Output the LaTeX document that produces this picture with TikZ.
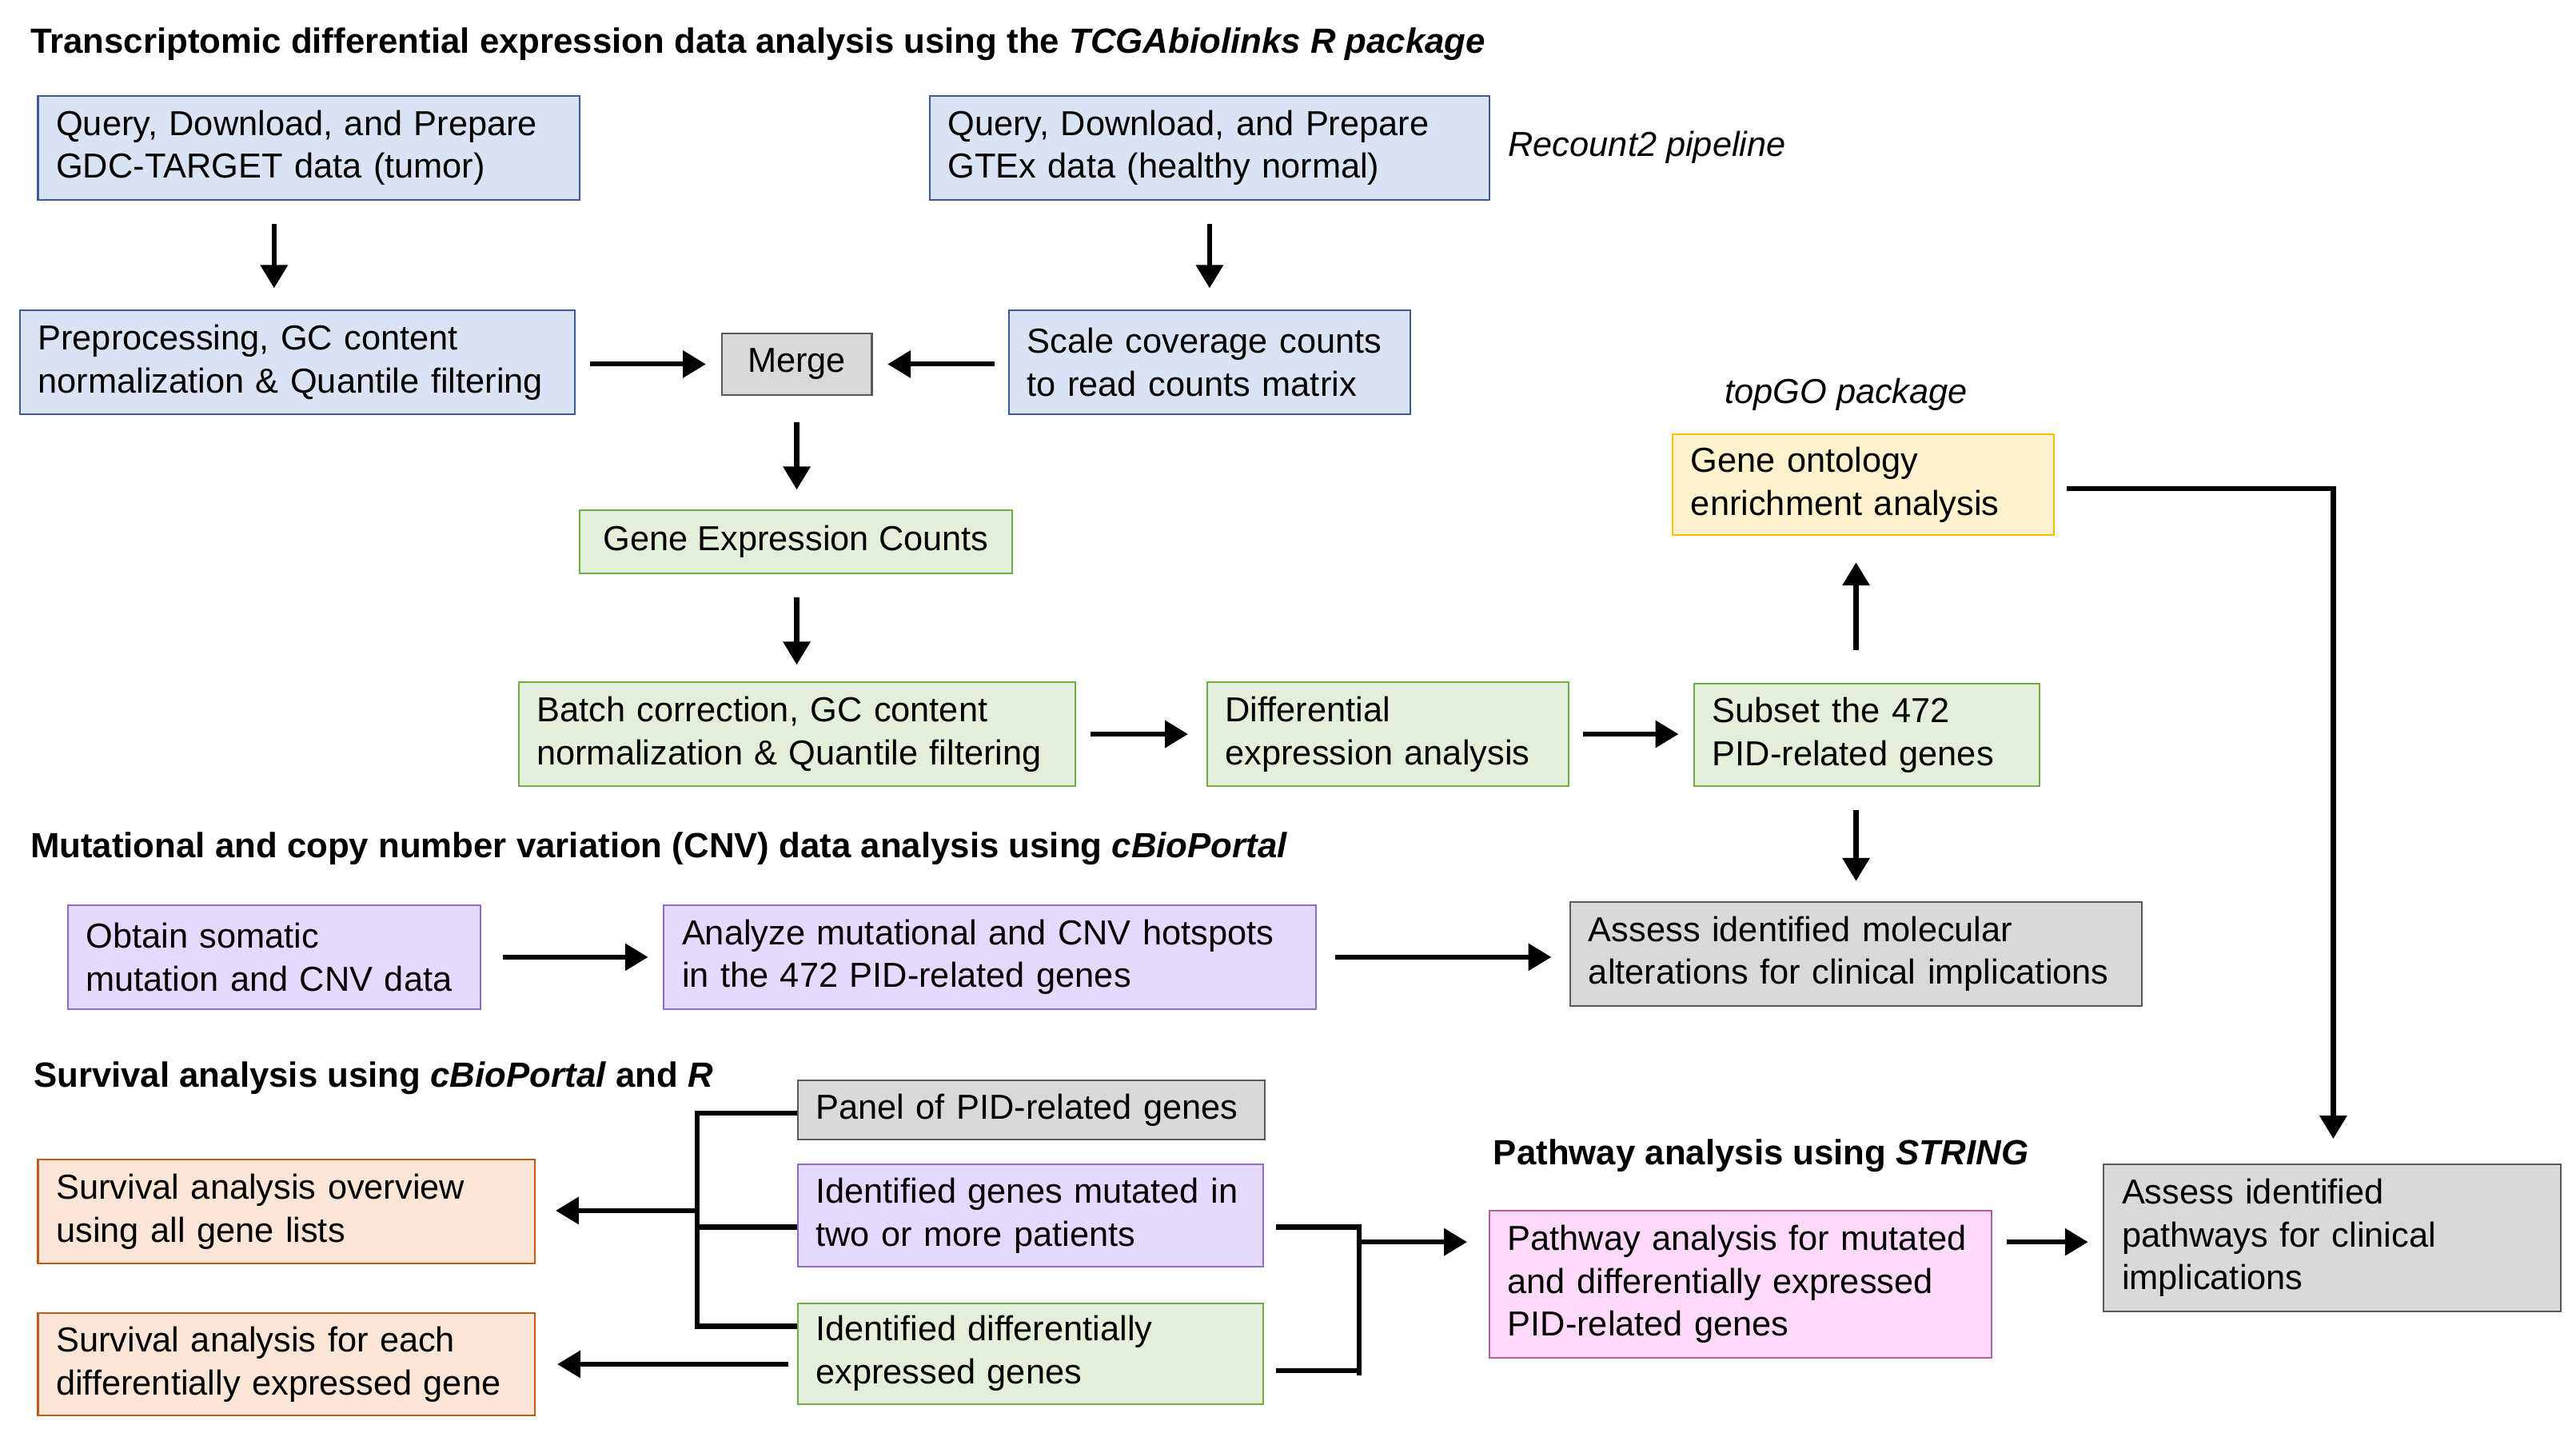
\documentclass[tikz,border=0pt]{standalone}
\usepackage{fontspec}
\setmainfont{Liberation Sans}
\usetikzlibrary{arrows.meta}
\begin{document}
\begin{tikzpicture}[x=0.5pt,y=-0.5pt,
  font=\fontsize{10.5}{13}\selectfont,
  bx/.style 2 args={draw, line width=0.5pt, minimum width=#1*0.5pt, minimum height=#2*0.5pt,
    text width=(#1-22)*0.5pt, align=left, inner sep=0pt},
  cbx/.style 2 args={draw, line width=0.5pt, minimum width=#1*0.5pt, minimum height=#2*0.5pt,
    align=center, inner sep=0pt},
  blu/.style={fill=cBlue, draw=bluD},
  grn/.style={fill=cGreen, draw=cGreenD},
  pur/.style={fill=cPur, draw=cPurD},
  gry/.style={fill=cGray, draw=cGrayD},
  org/.style={fill=cOrg, draw=cOrgD},
  yel/.style={fill=cYel, draw=cYelD},
  pnk/.style={fill=cPnk, draw=cPnkD},
  hd/.style={font=\fontsize{10.6}{13}\selectfont\bfseries, anchor=west, inner sep=0pt},
  ar/.style={line width=1.5pt, -{Triangle[length=7pt,width=8pt]}},
  ln/.style={line width=1.5pt}]
\definecolor{cBlue}{HTML}{DAE3F3}
\definecolor{bluD}{HTML}{3A5A99}
\definecolor{cGreen}{HTML}{E2F0D9}
\definecolor{cGreenD}{HTML}{70AD47}
\definecolor{cPur}{HTML}{E6D9FF}
\definecolor{cPurD}{HTML}{8E6CC8}
\definecolor{cGray}{HTML}{D9D9D9}
\definecolor{cGrayD}{HTML}{595959}
\definecolor{cOrg}{HTML}{FBE5D6}
\definecolor{cOrgD}{HTML}{C55A11}
\definecolor{cYel}{HTML}{FFF2CC}
\definecolor{cYelD}{HTML}{FFC000}
\definecolor{cPnk}{HTML}{FFD9FA}
\definecolor{cPnkD}{HTML}{B060A0}
\useasboundingbox (0,0) rectangle (1560,870);

\node[hd] (h1) at (18,27) {Transcriptomic differential expression data analysis using the \textit{TCGAbiolinks R package}};
\node[bx={328}{63}, blu] (b1) at (187,89.5) {Query, Download, and Prepare\\GDC-TARGET data (tumor)};
\node[bx={339}{63}, blu] (b2) at (732.5,89.5) {Query, Download, and Prepare\\GTEx data (healthy normal)};
\node[anchor=west, inner sep=0pt, font=\fontsize{10.5}{13}\selectfont\itshape] (rc) at (913,89) {Recount2 pipeline};
\node[bx={336}{63}, blu] (b3) at (180,219.5) {Preprocessing, GC content\\normalization \& Quantile filtering};
\node[cbx={91}{37}, gry] (b4) at (482.5,220.5) {Merge};
\node[bx={243}{63}, blu] (b5) at (732.5,219.5) {Scale coverage counts\\to read counts matrix};
\node[cbx={262}{38}, grn] (b6) at (482,328) {Gene Expression Counts};
\node[bx={337}{63}, grn] (b7) at (482.5,444.5) {Batch correction, GC content\\normalization \& Quantile filtering};
\node[bx={219}{63}, grn] (b8) at (840.5,444.5) {Differential\\expression analysis};
\node[bx={209}{62}, grn] (b9) at (1130.5,445) {Subset the 472\\PID-related genes};
\node[anchor=center, inner sep=0pt, font=\fontsize{10.5}{13}\selectfont\itshape] (tg) at (1118,239) {topGO package};
\node[bx={231}{61}, yel] (b10) at (1128.5,293.5) {Gene ontology\\enrichment analysis};

\node[hd] (h2) at (18,514) {Mutational and copy number variation (CNV) data analysis using \textit{cBioPortal}};
\node[bx={250}{63}, pur] (b11) at (166,579.5) {Obtain somatic\\mutation and CNV data};
\node[bx={395}{63}, pur] (b12) at (599.5,579.5) {Analyze mutational and CNV hotspots\\in the 472 PID-related genes};
\node[bx={346}{63}, gry] (b13) at (1124,577.5) {Assess identified molecular\\alterations for clinical implications};

\node[hd] (h3) at (20,653) {Survival analysis using \textit{cBioPortal} and \textit{R}};
\node[bx={283}{36}, gry] (b14) at (624.5,672) {Panel of PID-related genes};
\node[bx={282}{62}, pur] (b15) at (624,736) {Identified genes mutated in\\two or more patients};
\node[bx={282}{61}, grn] (b16) at (624,819.5) {Identified differentially\\expressed genes};
\node[bx={301}{63}, org] (b17) at (173.5,733.5) {Survival analysis overview\\using all gene lists};
\node[bx={301}{62}, org] (b18) at (173.5,826) {Survival analysis for each\\differentially expressed gene};

\node[hd] (h4) at (904,700) {Pathway analysis using \textit{STRING}};
\node[bx={304}{89}, pnk] (b19) at (1054,777.5) {Pathway analysis for mutated\\and differentially expressed\\PID-related genes};
\node[bx={277}{89}, gry] (b20) at (1412.5,749.5) {Assess identified\\pathways for clinical\\implications};

% arrows
\draw[ar, shorten <=14*0.5pt, shorten >=13*0.5pt] (b1.south -| 166,0) -- (b3.north -| 166,0);
\draw[ar, shorten <=14*0.5pt, shorten >=13*0.5pt] (b2.south -| b5.north) -- (b5.north);
\draw[ar, shorten <=9*0.5pt, shorten >=9*0.5pt] (b3.east |- b4.west) -- (b4.west);
\draw[ar, shorten <=8*0.5pt, shorten >=9*0.5pt] (b5.west |- b4.east) -- (b4.east);
\draw[ar, shorten <=16*0.5pt, shorten >=12*0.5pt] (b4.south) -- (b6.north -| b4.south);
\draw[ar, shorten <=14*0.5pt, shorten >=10*0.5pt] (b6.south -| b7.north) -- (b7.north);
\draw[ar, shorten <=9*0.5pt, shorten >=11*0.5pt] (b7.east) -- (b8.west);
\draw[ar, shorten <=8*0.5pt, shorten >=9*0.5pt] (b8.east) -- (b9.west |- b8.east);
\coordinate (c9) at (1124,445);
\draw[ar, shorten <=20*0.5pt, shorten >=16*0.5pt] (b9.north -| c9) -- (b10.south -| c9);
\draw[ar, shorten <=14*0.5pt, shorten >=12*0.5pt] (b9.south -| c9) -- (b13.north -| c9);
\draw[ar, shorten <=13*0.5pt, shorten >=9*0.5pt] (b11.east) -- (b12.west);
\draw[ar, shorten <=11*0.5pt, shorten >=11*0.5pt] (b12.east) -- (b13.west |- b12.east);
\coordinate (k1) at (1413,296);
\draw[ar, shorten <=7*0.5pt, shorten >=15*0.5pt] (b10.east |- k1) -- (k1) -- (b20.north -| k1);
% left bracket
\coordinate (lb) at (422,674);
\draw[ln] (b14.west |- lb) -- (lb) -- (lb |- 0,803) -- (b16.west |- 0,803);
\draw[ln] (b15.west |- 0,743) -- (lb |- 0,743);
\draw[ar, shorten >=12*0.5pt] (lb |- 0,733) -- (b17.east |- 0,733);
\draw[ar, shorten <=5*0.5pt, shorten >=13*0.5pt] (b16.west |- 0,826) -- (b18.east |- 0,826);
% right bracket
\coordinate (rb) at (823,743);
\draw[ln, shorten <=7*0.5pt] (b15.east |- rb) -- (rb) -- (rb |- 0,833);
\draw[ln, shorten <=7*0.5pt] (b16.east |- 0,830) -- (rb |- 0,830);
\draw[ar, shorten >=13*0.5pt] (rb |- 0,752) -- (b19.west |- 0,752);
\draw[ar, shorten <=9*0.5pt, shorten >=9*0.5pt] (b19.east |- 0,752) -- (b20.west |- 0,752);
\end{tikzpicture}
\end{document}
